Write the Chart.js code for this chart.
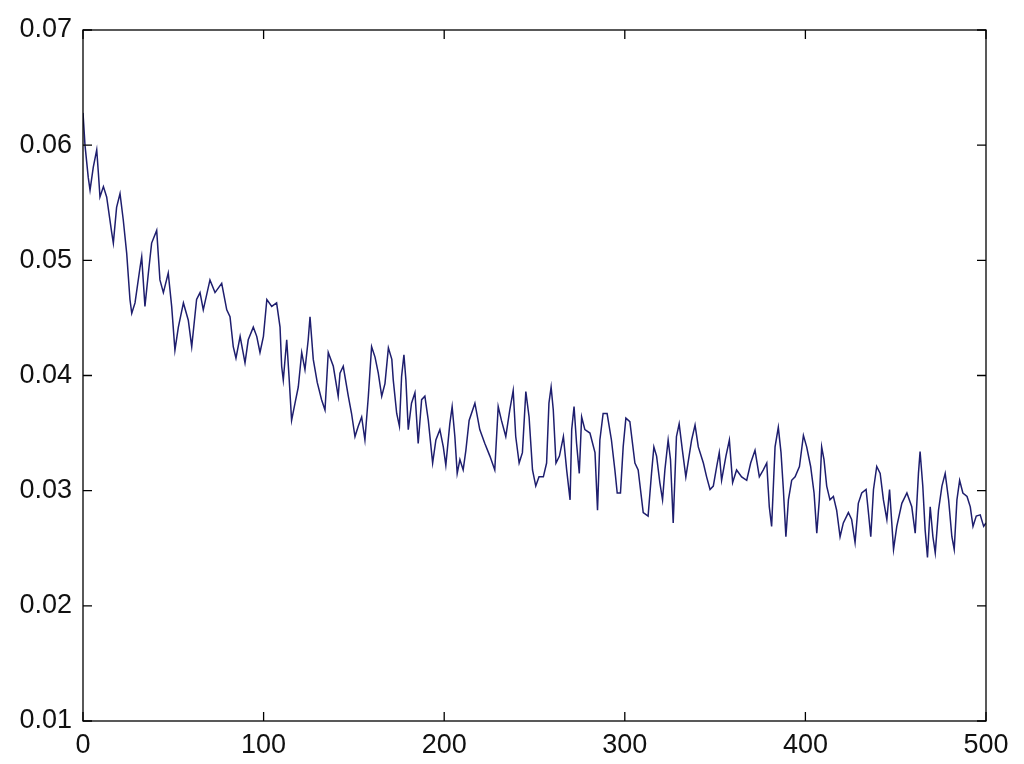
<!DOCTYPE html>
<html>
<head>
<meta charset="utf-8">
<script src="https://cdn.jsdelivr.net/npm/chart.js@4/dist/chart.umd.min.js"></script>
<style>
  html, body { margin: 0; padding: 0; background: #fff; }
  #wrap { width: 1024px; height: 764px; position: relative; }
</style>
</head>
<body>
<div id="wrap"><canvas id="lossChart"></canvas></div>
<script>
// values
const xVals = [
  0, 1.1, 2.9, 3.9, 5.7, 7.6, 8.5, 9.4, 11.3, 13.1, 15.9, 16.8, 18.6, 20.5, 22.3, 24.2, 26, 27, 28.8, 31.6,
  32.5, 34.3, 36.2, 38, 40.8, 42.6, 44.5, 47.2, 49.1, 50.9, 52.8, 55.6, 58.3, 60.2, 62.9, 64.8, 66.6, 70.3, 73.1, 76.8,
  79.6, 81.4, 83.2, 84.7, 87, 88.4, 89.7, 91.5, 94.3, 96.2, 98, 99.9, 101.8, 104.5, 107.2, 109.1, 110, 110.9, 112.8, 114.2,
  115.5, 117.4, 119.2, 121.1, 122.9, 124.7, 125.7, 127.5, 129.7, 132.1, 134, 135.8, 138.6, 141.3, 142.3, 144.1, 146.9, 148.7, 150.6, 152.4,
  154.3, 156.1, 158, 159.8, 161.7, 163.5, 165.4, 167.2, 169.1, 171, 171.8, 173.7, 175.2, 176.4, 177.7, 178.8, 180.1, 181.9, 183.8, 185.6,
  187.5, 189.3, 191.2, 193.6, 195.4, 197.6, 199.5, 200.9, 203.1, 204.4, 205.9, 207.2, 208.7, 210.5, 212, 213.8, 217, 219.7, 222.5, 225.3,
  228, 229.9, 231.7, 234.1, 236.3, 238.2, 239.6, 241.5, 243.3, 245.2, 247, 248.9, 250.7, 252.5, 254.9, 256.7, 258, 259.2, 260.4, 261.9,
  263.8, 266, 267.8, 269.7, 270.6, 271.9, 273.3, 274.8, 276.1, 277.9, 280.7, 283.5, 284.9, 286.2, 288, 290.2, 292.6, 294.5, 295.8, 297.6,
  299.1, 300.6, 302.8, 305.6, 307.4, 310.2, 312.9, 314.8, 316.1, 317.6, 319.4, 320.9, 322.2, 324, 325.3, 326.8, 328.6, 330.1, 331.9, 333.8,
  337, 338.9, 340.7, 343.5, 345.3, 347.2, 349, 350.9, 352.3, 353.6, 356, 357.9, 359.7, 361.9, 364.7, 367.5, 369.7, 372.1, 374.5, 376.7,
  378.6, 380, 381.3, 383.2, 385, 386.5, 387.8, 389.2, 390.6, 392.4, 394.3, 396.7, 398.9, 400.7, 402.9, 404.8, 406.3, 407.7, 409, 410.3,
  411.8, 413.6, 415.5, 417.3, 419.2, 421, 423.8, 425.6, 427.5, 429.3, 431.2, 433.6, 434.9, 436.2, 437.7, 439.5, 441.4, 443.2, 445.1, 446.6,
  448.8, 450.6, 453.4, 456.2, 458.9, 460.8, 462.6, 463.5, 465, 466.3, 467.6, 469.1, 470.6, 471.9, 473.7, 475.6, 477.4, 479.3, 481.1, 482.4,
  483.9, 485.4, 487.2, 489.5, 491.3, 492.8, 494.6, 496.8, 498.7, 500
];
const yVals = [
  0.0628, 0.0600, 0.0572, 0.0561, 0.0581, 0.0596, 0.0576, 0.0555, 0.0564, 0.0555, 0.0524, 0.0515, 0.0546, 0.0558, 0.0535, 0.0506, 0.0466, 0.0454, 0.0463, 0.0494,
  0.0503, 0.0460, 0.0489, 0.0515, 0.0526, 0.0483, 0.0472, 0.0489, 0.0460, 0.0422, 0.0442, 0.0463, 0.0448, 0.0425, 0.0466, 0.0472, 0.0457, 0.0483, 0.0472, 0.0480,
  0.0457, 0.0451, 0.0425, 0.0415, 0.0434, 0.0422, 0.0411, 0.0431, 0.0442, 0.0434, 0.0420, 0.0434, 0.0466, 0.0460, 0.0463, 0.0442, 0.0408, 0.0396, 0.0431, 0.0396,
  0.0361, 0.0376, 0.0390, 0.0420, 0.0405, 0.0431, 0.0451, 0.0414, 0.0394, 0.0379, 0.0370, 0.0420, 0.0408, 0.0382, 0.0402, 0.0408, 0.0382, 0.0367, 0.0347, 0.0356,
  0.0364, 0.0344, 0.0382, 0.0425, 0.0416, 0.0402, 0.0382, 0.0393, 0.0424, 0.0414, 0.0396, 0.0367, 0.0356, 0.0399, 0.0418, 0.0396, 0.0353, 0.0376, 0.0385, 0.0341,
  0.0379, 0.0382, 0.0361, 0.0324, 0.0344, 0.0353, 0.0338, 0.0322, 0.0358, 0.0373, 0.0347, 0.0315, 0.0327, 0.0318, 0.0335, 0.0361, 0.0376, 0.0353, 0.0341, 0.0330,
  0.0318, 0.0373, 0.0361, 0.0347, 0.0370, 0.0387, 0.0347, 0.0324, 0.0333, 0.0386, 0.0364, 0.0318, 0.0304, 0.0312, 0.0312, 0.0324, 0.0376, 0.0390, 0.0370, 0.0324,
  0.0330, 0.0347, 0.0318, 0.0292, 0.0353, 0.0373, 0.0341, 0.0315, 0.0364, 0.0353, 0.0350, 0.0333, 0.0283, 0.0344, 0.0367, 0.0367, 0.0344, 0.0318, 0.0298, 0.0298,
  0.0338, 0.0363, 0.0360, 0.0324, 0.0318, 0.0281, 0.0278, 0.0315, 0.0338, 0.0330, 0.0307, 0.0292, 0.0318, 0.0344, 0.0327, 0.0272, 0.0347, 0.0358, 0.0335, 0.0312,
  0.0344, 0.0357, 0.0338, 0.0324, 0.0312, 0.0301, 0.0304, 0.0321, 0.0333, 0.0309, 0.0330, 0.0344, 0.0307, 0.0318, 0.0312, 0.0309, 0.0324, 0.0335, 0.0312, 0.0318,
  0.0324, 0.0286, 0.0269, 0.0338, 0.0355, 0.0333, 0.0301, 0.0260, 0.0292, 0.0309, 0.0312, 0.0321, 0.0348, 0.0338, 0.0321, 0.0298, 0.0263, 0.0292, 0.0338, 0.0327,
  0.0304, 0.0292, 0.0295, 0.0283, 0.0260, 0.0272, 0.0281, 0.0275, 0.0255, 0.0289, 0.0298, 0.0301, 0.0281, 0.0260, 0.0301, 0.0321, 0.0315, 0.0292, 0.0275, 0.0301,
  0.0249, 0.0269, 0.0289, 0.0298, 0.0286, 0.0263, 0.0315, 0.0334, 0.0304, 0.0266, 0.0242, 0.0286, 0.0260, 0.0246, 0.0283, 0.0304, 0.0315, 0.0292, 0.0260, 0.0249,
  0.0292, 0.0309, 0.0298, 0.0295, 0.0286, 0.0269, 0.0278, 0.0279, 0.0269, 0.0272
];
const xTickVals = [0, 100, 200, 300, 400, 500];
const yTickVals = [0.01, 0.02, 0.03, 0.04, 0.05, 0.06, 0.07];

const points = xVals.map((x, i) => ({ x: x, y: yVals[i] }));

// MATLAB style box with inward ticks on all four sides
const boxPlugin = {
    id: 'matlabBox',
    afterDraw(chart) {
        const ctx = chart.ctx;
        const a = chart.chartArea;
        const xs = chart.scales.x;
        const ys = chart.scales.y;
        const len = 9;
        ctx.save();
        ctx.strokeStyle = '#000';
        ctx.lineWidth = 1.3;
        ctx.strokeRect(a.left, a.top, a.right - a.left, a.bottom - a.top);
        ctx.beginPath();
        xs.ticks.forEach(function(t) {
            const px = xs.getPixelForValue(t.value);
            ctx.moveTo(px, a.bottom); ctx.lineTo(px, a.bottom - len);
            ctx.moveTo(px, a.top); ctx.lineTo(px, a.top + len);
        });
        ys.ticks.forEach(function(t) {
            const py = ys.getPixelForValue(t.value);
            ctx.moveTo(a.left, py); ctx.lineTo(a.left + len, py);
            ctx.moveTo(a.right, py); ctx.lineTo(a.right - len, py);
        });
        ctx.stroke();
        ctx.restore();
    }
};

const tickFont = { family: "'Liberation Sans', Arial, sans-serif", size: 27 };

new Chart(document.getElementById('lossChart'), {
    type: 'line',
    data: {
        datasets: [{
            data: points,
            borderColor: '#1e1e6e',
            borderWidth: 1.5,
            pointRadius: 0,
            tension: 0,
            fill: false
        }]
    },
    options: {
        responsive: true,
        maintainAspectRatio: false,
        animation: false,
        layout: { padding: { top: 30, right: 38, left: 0, bottom: 0 } },
        plugins: { legend: { display: false }, tooltip: { enabled: false } },
        scales: {
            x: {
                type: 'linear',
                min: 0,
                max: 500,
                afterBuildTicks: function(scale) { scale.ticks = xTickVals.map(v => ({ value: v })); },
                afterFit: function(scale) { scale.height = 43; },
                grid: { display: false, drawTicks: false },
                border: { display: false },
                ticks: { color: '#111', font: tickFont, padding: 8, maxRotation: 0,
                    callback: function(v) { return String(v); } }
            },
            y: {
                min: 0.01,
                max: 0.07,
                afterBuildTicks: function(scale) { scale.ticks = yTickVals.map(v => ({ value: v })); },
                afterFit: function(scale) { scale.width = 83; },
                grid: { display: false, drawTicks: false },
                border: { display: false },
                ticks: { color: '#111', font: tickFont, padding: 11,
                    callback: function(v) { return v.toFixed(2); } }
            }
        }
    },
    plugins: [boxPlugin]
});
</script>
</body>
</html>
